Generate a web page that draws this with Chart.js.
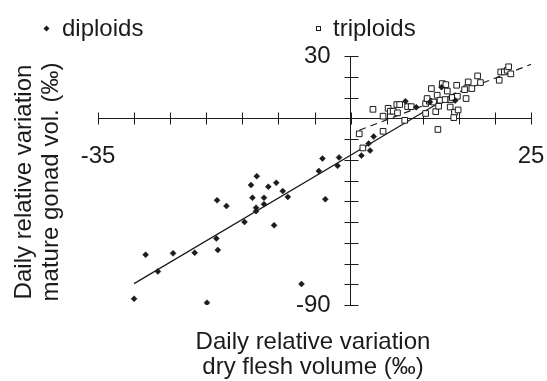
<!DOCTYPE html>
<html>
<head>
<meta charset="utf-8">
<title>Gonad vs flesh volume</title>
<script src="https://cdn.jsdelivr.net/npm/chart.js@4.4.1/dist/chart.umd.min.js"></script>
<style>
  html, body { margin:0; padding:0; background:#fff; }
  #wrap { position:relative; width:547px; height:381px; }
</style>
</head>
<body>
<div id="wrap"><canvas id="chart" width="547" height="381"></canvas></div>
<script>
// values (per mille per day)
const diploidX = [-30.0, -28.4, -26.7, -24.6, -21.6, -19.9, -18.6, -18.4, -18.5, -17.2, -14.7, -13.8, -13.6, -13.0, -13.1, -13.1, -12.0, -12.0, -11.4, -10.3, -10.6, -9.4, -8.7, -6.8, -4.4, -3.9, -3.5, -1.8, -1.6, 1.5, 2.7, 2.5, 3.2, 7.6, 9.1, 11.0, 12.6, 14.5];
const diploidY = [-87.0, -65.8, -73.8, -65.1, -64.8, -88.9, -57.9, -63.5, -39.5, -42.3, -50.0, -32.2, -38.3, -27.9, -43.1, -44.8, -38.3, -41.4, -33.0, -31.1, -51.6, -35.1, -37.9, -79.9, -25.4, -19.4, -39.0, -22.9, -18.9, -18.0, -15.6, -12.2, -8.8, 8.2, 5.3, 7.8, 15.0, 8.5];
const triploidX = [1.2, 1.7, 4.5, 3.1, 4.5, 5.2, 5.5, 5.9, 6.5, 6.4, 6.8, 7.5, 7.9, 8.4, 10.4, 10.4, 10.9, 11.2, 11.5, 11.8, 12.0, 12.1, 12.2, 12.4, 12.7, 13.2, 13.4, 13.1, 13.8, 13.9, 14.1, 14.4, 14.3, 14.9, 14.7, 14.8, 16.0, 16.1, 16.3, 15.8, 16.8, 17.6, 18.0, 20.6, 20.8, 21.3, 21.7, 21.9, 22.2, 10.6];
const triploidY = [-7.5, -14.3, -6.3, 4.3, 1.0, 4.8, 3.4, 3.4, 2.6, 6.6, 6.6, -1.0, 5.6, 5.6, 2.3, 7.1, 8.2, 14.3, 7.8, 3.2, 11.1, -5.4, 5.8, 8.7, 16.7, 16.2, 13.1, 9.0, 5.4, 9.0, 10.0, 2.9, 0.3, 4.0, 15.9, 10.6, 9.5, 14.6, 17.5, 13.8, 14.3, 20.4, 17.2, 18.3, 22.3, 22.3, 23.1, 24.8, 21.4, 9.5];
// regression lines, end points as drawn
const diploidFitX = [-30.0, 14.6];
const diploidFitY = [-79.7, 12.3];
const triploidFitX = [1.2, 25.1];
const triploidFitY = [-5.8, 26.1];
// axis ranges and the labelled ticks
const xRange = [-35, 25];
const yRange = [-90, 30];
const xLabelled = [-35, 25];
const yLabelled = [-90, 30];
const legendNames = ['diploids', 'triploids'];
const xTitle = ['Daily relative variation', 'dry flesh volume (\u2030)'];
const yTitle = ['Daily relative variation', 'mature gonad vol. (\u2030)'];

const ink = '#1b1b1b';
const fontFam = '"Liberation Sans", Arial, Helvetica, sans-serif';
Chart.defaults.font.family = fontFam;
Chart.defaults.font.size = 24;
Chart.defaults.color = ink;

const pts = (xs, ys) => xs.map((v, i) => ({x: v, y: ys[i]}));

// tick marks that cross the axis line
const crossTicks = {
  id: 'crossTicks',
  beforeDatasetsDraw(chart){
    const {ctx, scales:{x, y}} = chart;
    const x0 = Math.round(x.getPixelForValue(0)) + 0.5, y0 = Math.round(y.getPixelForValue(0)) + 0.5;
    ctx.save(); ctx.strokeStyle = ink; ctx.lineWidth = 1; ctx.beginPath();
    x.ticks.forEach(t=>{ const p = Math.round(x.getPixelForValue(t.value)) + 0.5; ctx.moveTo(p, y0-6); ctx.lineTo(p, y0+6); });
    y.ticks.forEach(t=>{ const p = Math.round(y.getPixelForValue(t.value)) + 0.5; ctx.moveTo(x0-7, p); ctx.lineTo(x0+7, p); });
    ctx.stroke(); ctx.restore();
  }
};

// legend and axis titles
const labelsPlugin = {
  id: 'labelsPlugin',
  afterDraw(chart){
    const ctx = chart.ctx;
    ctx.save();
    ctx.fillStyle = ink; ctx.strokeStyle = ink;
    ctx.font = '24px ' + fontFam; ctx.textBaseline = 'alphabetic'; ctx.textAlign = 'left';
    // legend
    ctx.beginPath(); ctx.moveTo(46.5, 25.5); ctx.lineTo(49.5, 28.5); ctx.lineTo(46.5, 31.5); ctx.lineTo(43.5, 28.5); ctx.closePath(); ctx.fill();
    ctx.fillText(legendNames[0], 62, 36);
    ctx.lineWidth = 1; ctx.strokeRect(316.5, 26.5, 4, 4);
    ctx.fillText(legendNames[1], 333, 36);
    // x title
    ctx.textAlign = 'center';
    ctx.fillText(xTitle[0], 313, 349);
    ctx.fillText(xTitle[1], 313, 374);
    // y title
    ctx.translate(0, 182); ctx.rotate(-Math.PI/2);
    ctx.textBaseline = 'middle';
    ctx.fillText(yTitle[0], 0, 24);
    ctx.fillText(yTitle[1], 0, 51);
    ctx.restore();
  }
};

new Chart(document.getElementById('chart'), {
  type: 'scatter',
  data: {
    datasets: [
      {label: legendNames[0] + ' fit', type: 'line', data: pts(diploidFitX, diploidFitY), borderColor: ink, borderWidth: 1.2, pointRadius: 0, order: 4},
      {label: legendNames[1] + ' fit', type: 'line', data: pts(triploidFitX, triploidFitY), borderColor: ink, borderWidth: 1.2, borderDash: [7, 5], pointRadius: 0, order: 3},
      {label: legendNames[1], data: pts(triploidX, triploidY), pointStyle: 'rect', pointRadius: 4, backgroundColor: '#fff', borderColor: ink, borderWidth: 1, order: 2},
      {label: legendNames[0], data: pts(diploidX, diploidY), pointStyle: 'rectRot', pointRadius: 3, backgroundColor: ink, borderColor: ink, borderWidth: 0.5, order: 1}
    ]
  },
  options: {
    responsive: false, animation: false, devicePixelRatio: 1,
    layout: {padding: {left: 98, right: 16, top: 56, bottom: 76}},
    plugins: {legend: {display: false}, tooltip: {enabled: false}},
    scales: {
      x: {
        type: 'linear', position: {y: 0}, min: xRange[0], max: xRange[1],
        // invisible tick length pushes the labels down without widening the side padding
        grid: {drawOnChartArea: false, drawTicks: true, tickLength: 22, tickColor: 'rgba(0,0,0,0)'},
        border: {color: ink, width: 1},
        ticks: {stepSize: 5, padding: 2, maxRotation: 0, autoSkip: false,
          callback: v => xLabelled.includes(v) ? String(v) : ''}
      },
      y: {
        type: 'linear', position: {x: 0}, min: yRange[0], max: yRange[1],
        grid: {drawOnChartArea: false, drawTicks: false},
        border: {color: ink, width: 1},
        ticks: {stepSize: 10, padding: 0, autoSkip: false,
          callback: v => yLabelled.includes(v) ? String(v) + '   ' : ''}
      }
    }
  },
  plugins: [crossTicks, labelsPlugin]
});
</script>
</body>
</html>
